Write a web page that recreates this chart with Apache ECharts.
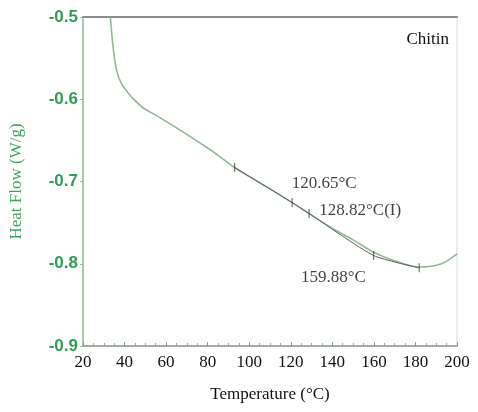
<!DOCTYPE html>
<html>
<head>
<meta charset="utf-8">
<script src="https://cdn.jsdelivr.net/npm/echarts@6/dist/echarts.min.js"></script>
<style>html,body{margin:0;padding:0;background:#fff}#c{width:478px;height:412px}</style>
</head>
<body>
<div id="c"></div>
<script>
// Temperature (°C) and Heat Flow (W/g)
const temps = [33.2, 33.9, 34.7, 35.5, 36.4, 37.6, 39.0, 41.0, 44, 48.8, 56.8, 65.1, 72, 79.8, 86, 93, 100, 110, 120.65, 128.82, 140, 150, 159.88, 169.5, 181.8, 192.5, 200];
const heatFlow = [-0.500, -0.522, -0.541, -0.556, -0.567, -0.576, -0.583, -0.590, -0.599, -0.610, -0.622, -0.635, -0.646, -0.659, -0.670, -0.683, -0.694, -0.709, -0.7256, -0.739, -0.757, -0.771, -0.786, -0.796, -0.804, -0.800, -0.788];
// analysis markers (ticks on the curve)
const markTemps = [93, 120.65, 128.82, 159.88, 181.8];
const markFlow = [-0.683, -0.7256, -0.739, -0.790, -0.805];
// annotation texts and their anchor points (data coords)
const annTexts = ['120.65°C', '128.82°C(I)', '159.88°C'];
const annTemps = [120.5, 133.7, 124.9];
const annFlow = [-0.7024, -0.7354, -0.817];
const xTicks = [20, 40, 60, 80, 100, 120, 140, 160, 180, 200];
const yTicks = [-0.9, -0.8, -0.7, -0.6, -0.5];

const chart = echarts.init(document.getElementById('c'), null, {renderer: 'canvas'});
const serif = 'Liberation Serif';
chart.setOption({
  animation: false,
  title: {text: 'Chitin', right: 24, top: 26, textStyle: {fontFamily: serif, fontSize: 17, fontWeight: 'normal', color: '#111'}},
  grid: {left: 83, right: 21, top: 17, bottom: 66, show: true, borderColor: '#d6dcd6', borderWidth: 1},
  xAxis: [{
    type: 'value', min: xTicks[0], max: xTicks[xTicks.length - 1], interval: 20,
    name: 'Temperature (°C)', nameLocation: 'middle', nameGap: 40,
    nameTextStyle: {fontFamily: serif, fontSize: 17, color: '#111'},
    axisLine: {show: true, lineStyle: {color: '#8a9a8a', width: 1.5}},
    axisTick: {show: true, inside: true, length: 4, lineStyle: {color: '#8a9a8a'}},
    minorTick: {show: true, splitNumber: 4, length: 3, lineStyle: {color: '#9aa89a'}},
    axisLabel: {fontFamily: serif, fontSize: 17, color: '#111', margin: 8},
    splitLine: {show: false}
  }, {
    type: 'value', position: 'top', min: 20, max: 200,
    axisLine: {show: true, lineStyle: {color: '#8c8c8c', width: 2}},
    axisTick: {show: false}, axisLabel: {show: false}, splitLine: {show: false}
  }],
  yAxis: {
    type: 'value', min: yTicks[0], max: yTicks[yTicks.length - 1], interval: 0.1,
    name: 'Heat Flow (W/g)', nameLocation: 'middle', nameGap: 58,
    nameTextStyle: {fontFamily: serif, fontSize: 17, color: '#3da55e'},
    axisLine: {show: true, lineStyle: {color: '#8fbf9c', width: 1.5}},
    axisTick: {show: true, length: 3, lineStyle: {color: '#8fbf9c'}},
    axisLabel: {fontFamily: 'Liberation Sans', fontSize: 17, fontWeight: 'bold', color: '#2f9e55', margin: 5,
      formatter: v => v.toFixed(1)},
    splitLine: {show: false}
  },
  series: [{
    type: 'line', data: temps.map((t, i) => [t, heatFlow[i]]), smooth: 0.3,
    showSymbol: false, lineStyle: {color: '#93b896', width: 1.6}, clip: true
  }, {
    type: 'line', data: markTemps.map((t, i) => [t, markFlow[i]]), smooth: 0.2,
    showSymbol: false, lineStyle: {color: '#5a5f5a', width: 1}, z: 3
  }, {
    type: 'scatter', data: markTemps.map((t, i) => [t, markFlow[i]]),
    symbol: 'rect', symbolSize: [1, 9], itemStyle: {color: '#333'}, z: 4
  }, {
    type: 'scatter', data: annTemps.map((t, i) => [t, annFlow[i], annTexts[i]]),
    symbolSize: 0, silent: true,
    label: {show: true, position: 'right', distance: 0, formatter: p => p.data[2],
      fontFamily: serif, fontSize: 17, color: '#111'}
  }]
});
</script>
</body>
</html>
